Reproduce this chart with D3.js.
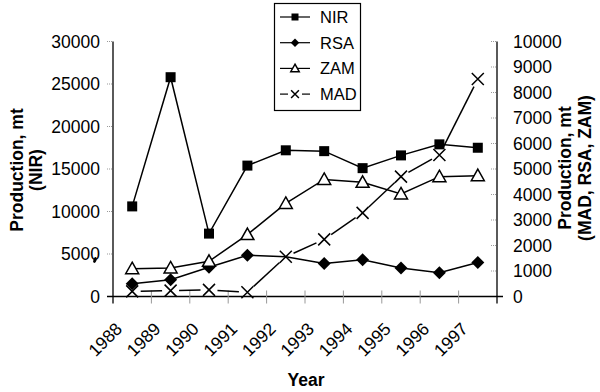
<!DOCTYPE html>
<html><head><meta charset="utf-8">
<script src="https://cdn.jsdelivr.net/npm/d3@7"></script>
<style>
body{margin:0;background:#fff;}
svg{display:block;font-family:"Liberation Sans",Arial,sans-serif;}
</style></head>
<body><svg id="c" width="600" height="392"></svg>
<script>
const years = ["1988","1989","1990","1991","1992","1993","1994","1995","1996","1997"];
const nir = [10600, 25800, 7400, 15400, 17200, 17100, 15100, 16600, 17900, 17500];
const rsa = [500, 660, 1150, 1620, 1560, 1290, 1440, 1120, 930, 1330];
const zam = [1090, 1120, 1380, 2430, 3650, 4590, 4480, 4020, 4700, 4740];
const mad = [200, 230, 260, 170, 1560, 2240, 3280, 4700, 5550, 8530];
const leftTicks = [0, 5000, 10000, 15000, 20000, 25000, 30000];
const rightTicks = [0,1000,2000,3000,4000,5000,6000,7000,8000,9000,10000];
const seriesNames = ["NIR","RSA","ZAM","MAD"];

const svg = d3.select("#c");
const L = 113, R = 497, T = 41.5, B = 296.5;
const x = d3.scaleBand().domain(years).range([L, R]);
const yL = d3.scaleLinear().domain([0, 30000]).range([B, T]);
const yR = d3.scaleLinear().domain([0, 10000]).range([B, T]);
const cx = d => x(d) + x.bandwidth()/2;

// axes
const ax = svg.append("g");
ax.append("line").attr("x1", L).attr("x2", L).attr("y1", T).attr("y2", B+7).attr("stroke","#000").attr("stroke-width",1.3);
ax.append("line").attr("x1", R).attr("x2", R).attr("y1", T).attr("y2", B+7).attr("stroke","#000").attr("stroke-width",1.3);
ax.append("line").attr("x1", L-6).attr("x2", R+6).attr("y1", B).attr("y2", B).attr("stroke","#000").attr("stroke-width",1.3);

// left ticks
leftTicks.forEach(v => {
  if (v > 0) ax.append("line").attr("x1", L-6).attr("x2", L-1).attr("y1", yL(v)).attr("y2", yL(v))
    .attr("stroke","#999").attr("stroke-dasharray","1,1");
  ax.append("text").attr("x", 100).attr("y", yL(v)).attr("dy","0.36em").attr("text-anchor","end")
    .attr("font-size",17.5).text(v);
});
// right ticks
rightTicks.forEach(v => {
  if (v > 0) ax.append("line").attr("x1", R-6).attr("x2", R-1).attr("y1", yR(v)).attr("y2", yR(v))
    .attr("stroke","#999").attr("stroke-dasharray","1,1");
  ax.append("text").attr("x", 513).attr("y", yR(v)).attr("dy","0.36em").attr("text-anchor","start")
    .attr("font-size",17.5).text(v);
});
// x ticks at band boundaries
years.slice(1).forEach(d => {
  ax.append("line").attr("x1", x(d)).attr("x2", x(d)).attr("y1", B-6).attr("y2", B+7).attr("stroke","#999");
});
years.forEach(d => {
  ax.append("text").attr("transform", `translate(${cx(d)-9},${B+33.5}) rotate(-45)`)
    .attr("text-anchor","end").attr("font-size",17.5).text(d);
});

// axis titles
svg.append("text").attr("transform","translate(23,170) rotate(-90)").attr("text-anchor","middle")
  .attr("font-size",17.5).attr("font-weight","bold").text("Production, mt");
svg.append("text").attr("transform","translate(42,170) rotate(-90)").attr("text-anchor","middle")
  .attr("font-size",17.5).attr("font-weight","bold").text("(NIR)");
svg.append("text").attr("transform","translate(571,168) rotate(-90)").attr("text-anchor","middle")
  .attr("font-size",17.5).attr("font-weight","bold").text("Production, mt");
svg.append("text").attr("transform","translate(591,168) rotate(-90)").attr("text-anchor","middle")
  .attr("font-size",17.5).attr("font-weight","bold").text("(MAD, RSA, ZAM)");
svg.append("text").attr("x",306).attr("y",386).attr("text-anchor","middle")
  .attr("font-size",17.5).attr("font-weight","bold").text("Year");
// small stray mark near 5000 label
svg.append("ellipse").attr("cx",95).attr("cy",260).attr("rx",1.6).attr("ry",3).attr("transform","rotate(20,95,260)").attr("fill","#000");

// markers
function marker(g, type, px, py, s) {
  if (type === "square") g.append("rect").attr("x", px-5*s).attr("y", py-5*s).attr("width", 10*s).attr("height", 10*s).attr("fill","#000");
  else if (type === "diamond") g.append("path").attr("d", `M${px},${py-6.5*s}L${px+6.5*s},${py}L${px},${py+6.5*s}L${px-6.5*s},${py}Z`).attr("fill","#000");
  else if (type === "triangle") g.append("path").attr("d", `M${px},${py-6.5*s}L${px+6.5*s},${py+5*s}L${px-6.5*s},${py+5*s}Z`).attr("fill","#fff").attr("stroke","#000").attr("stroke-width",1.5);
  else if (type === "x") g.append("path").attr("d", `M${px-6*s},${py-6*s}L${px+6*s},${py+6*s}M${px+6*s},${py-6*s}L${px-6*s},${py+6*s}`).attr("stroke","#000").attr("stroke-width",1.5).attr("fill","none");
}

const plot = svg.append("g");
const lineL = d3.line().x((v,i)=>cx(years[i])).y(v=>yL(v));
const lineR = d3.line().x((v,i)=>cx(years[i])).y(v=>yR(v));

// MAD: segments with gaps near markers
const madPts = mad.map((v,i)=>[cx(years[i]), yR(v)]);
for (let i=0;i<madPts.length-1;i++){
  const [x1,y1]=madPts[i],[x2,y2]=madPts[i+1];
  const len=Math.hypot(x2-x1,y2-y1), g=8.5;
  const ux=(x2-x1)/len, uy=(y2-y1)/len;
  plot.append("line").attr("x1",x1+ux*g).attr("y1",y1+uy*g).attr("x2",x2-ux*g).attr("y2",y2-uy*g)
    .attr("stroke","#000").attr("stroke-width",1.5);
}
plot.append("path").attr("d", lineR(rsa)).attr("fill","none").attr("stroke","#000").attr("stroke-width",1.5);
plot.append("path").attr("d", lineR(zam)).attr("fill","none").attr("stroke","#000").attr("stroke-width",1.5);
plot.append("path").attr("d", lineL(nir)).attr("fill","none").attr("stroke","#000").attr("stroke-width",1.5);

rsa.forEach((v,i)=>{ if (years[i] !== "1992") marker(plot,"diamond",cx(years[i]),yR(v),1); });
zam.forEach((v,i)=>marker(plot,"triangle",cx(years[i]),yR(v),1));
nir.forEach((v,i)=>marker(plot,"square",cx(years[i]),yL(v),1));
mad.forEach((v,i)=>marker(plot,"x",cx(years[i]),yR(v),1));

// legend
const lg = svg.append("g");
lg.append("rect").attr("x",274.5).attr("y",3.5).attr("width",86).attr("height",107).attr("fill","#fff").attr("stroke","#000").attr("stroke-width",1.2);
const types = ["square","diamond","triangle","x"];
seriesNames.forEach((n,i)=>{
  const yy = 17 + i*25.7;
  if (types[i]==="x") {
    lg.append("line").attr("x1",280).attr("x2",288).attr("y1",yy).attr("y2",yy).attr("stroke","#000").attr("stroke-width",1.2);
    lg.append("line").attr("x1",302).attr("x2",310).attr("y1",yy).attr("y2",yy).attr("stroke","#000").attr("stroke-width",1.2);
  } else {
    lg.append("line").attr("x1",280).attr("x2",310).attr("y1",yy).attr("y2",yy).attr("stroke","#000").attr("stroke-width",1.2);
  }
  marker(lg, types[i], 295, yy, types[i]==="square"?0.7:0.65);
  lg.append("text").attr("x",320).attr("y",yy).attr("dy","0.36em").attr("font-size",16.5).text(n);
});
</script></body></html>
